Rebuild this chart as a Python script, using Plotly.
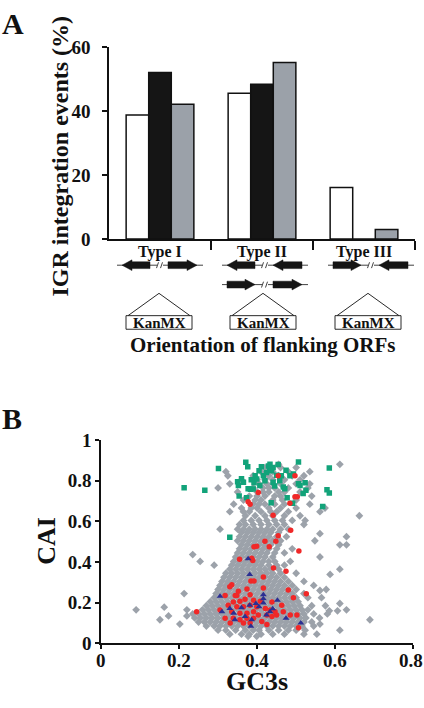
import plotly.graph_objects as go

W, H = 424, 708
FONT = "Liberation Serif, Times New Roman, serif"

# ---------------- Panel A data ----------------
orient_types = ["Type I", "Type II", "Type III"]
series_white = [38.7, 45.5, 16.1]
series_black = [52.0, 48.3, 0.0]
series_gray = [42.1, 55.1, 3.0]
igr_ticks = [0, 20, 40, 60]

# ---------------- Panel B data ----------------
gc3s_ticks = [0, 0.2, 0.4, 0.6, 0.8]
gc3s_labels = ["0", "0.2", "0.4", "0.6", "0.8"]
cai_ticks = [0, 0.2, 0.4, 0.6, 0.8, 1]

# gray genes: rows of (CAI, [GC3s values])
gray_rows = [
    (0.035, [0.377, 0.399]),
    (0.045, [0.33, 0.36, 0.38, 0.41, 0.44, 0.47, 0.52, 0.553]),
    (0.065, [0.30, 0.32, 0.345, 0.37, 0.39, 0.405, 0.43, 0.455, 0.48, 0.50, 0.523, 0.612]),
    (0.085, [0.27, 0.29, 0.305, 0.32, 0.335, 0.35, 0.365, 0.38, 0.395, 0.41, 0.425, 0.44, 0.455, 0.47, 0.485, 0.50, 0.515, 0.545]),
    (0.095, [0.202, 0.561]),
    (0.105, [0.25, 0.265, 0.28, 0.295, 0.31, 0.325, 0.34, 0.355, 0.37, 0.385, 0.40, 0.415, 0.43, 0.445, 0.46, 0.475, 0.49, 0.505, 0.52, 0.54]),
    (0.116, [0.151, 0.689]),
    (0.125, [0.24, 0.255, 0.27, 0.285, 0.30, 0.315, 0.33, 0.345, 0.36, 0.375, 0.39, 0.405, 0.42, 0.435, 0.45, 0.465, 0.48, 0.495, 0.51, 0.525, 0.56]),
    (0.135, [0.173, 0.22]),
    (0.145, [0.235, 0.25, 0.265, 0.28, 0.295, 0.31, 0.325, 0.34, 0.355, 0.37, 0.385, 0.40, 0.415, 0.43, 0.445, 0.46, 0.475, 0.49, 0.505, 0.52, 0.545, 0.58]),
    (0.160, [0.606, 0.585]),
    (0.165, [0.09, 0.22, 0.26, 0.275, 0.29, 0.305, 0.32, 0.335, 0.35, 0.365, 0.38, 0.395, 0.41, 0.425, 0.44, 0.455, 0.47, 0.485, 0.50, 0.515, 0.53, 0.629]),
    (0.178, [0.162]),
    (0.185, [0.27, 0.285, 0.30, 0.315, 0.33, 0.345, 0.36, 0.375, 0.39, 0.405, 0.42, 0.435, 0.45, 0.465, 0.48, 0.495, 0.51, 0.54, 0.575]),
    (0.196, [0.612]),
    (0.205, [0.28, 0.295, 0.31, 0.325, 0.34, 0.355, 0.37, 0.385, 0.40, 0.415, 0.43, 0.445, 0.46, 0.475, 0.49, 0.505]),
    (0.225, [0.29, 0.305, 0.32, 0.335, 0.35, 0.365, 0.38, 0.395, 0.41, 0.425, 0.44, 0.455, 0.47, 0.485, 0.50, 0.53, 0.565]),
    (0.245, [0.213, 0.295, 0.31, 0.325, 0.34, 0.355, 0.37, 0.385, 0.40, 0.415, 0.43, 0.445, 0.46, 0.475, 0.49, 0.52]),
    (0.260, [0.561]),
    (0.265, [0.30, 0.315, 0.33, 0.345, 0.36, 0.375, 0.39, 0.405, 0.42, 0.435, 0.45, 0.465, 0.48, 0.50, 0.577]),
    (0.285, [0.305, 0.32, 0.335, 0.35, 0.365, 0.38, 0.395, 0.41, 0.425, 0.44, 0.455, 0.47, 0.49, 0.545]),
    (0.305, [0.31, 0.325, 0.34, 0.355, 0.37, 0.385, 0.40, 0.415, 0.43, 0.445, 0.46, 0.48, 0.52]),
    (0.325, [0.315, 0.33, 0.345, 0.36, 0.375, 0.39, 0.405, 0.42, 0.435, 0.45, 0.47]),
    (0.339, [0.587]),
    (0.345, [0.32, 0.335, 0.35, 0.365, 0.38, 0.395, 0.41, 0.425, 0.44, 0.46, 0.50]),
    (0.365, [0.33, 0.345, 0.36, 0.375, 0.39, 0.405, 0.42, 0.435, 0.455, 0.612]),
    (0.385, [0.29, 0.335, 0.35, 0.365, 0.38, 0.395, 0.41, 0.43, 0.45, 0.47]),
    (0.403, [0.254, 0.34, 0.355, 0.37, 0.385, 0.40, 0.415, 0.43, 0.445, 0.485]),
    (0.425, [0.345, 0.36, 0.375, 0.39, 0.405, 0.42, 0.44, 0.561]),
    (0.437, [0.235]),
    (0.445, [0.35, 0.365, 0.38, 0.395, 0.41, 0.425, 0.445, 0.47]),
    (0.465, [0.355, 0.37, 0.385, 0.40, 0.415, 0.43, 0.45, 0.49]),
    (0.485, [0.36, 0.375, 0.39, 0.405, 0.42, 0.435, 0.455, 0.612, 0.629]),
    (0.505, [0.35, 0.365, 0.38, 0.395, 0.41, 0.425, 0.44, 0.46, 0.548]),
    (0.525, [0.355, 0.37, 0.385, 0.40, 0.415, 0.43, 0.45, 0.475, 0.629]),
    (0.540, [0.561]),
    (0.545, [0.36, 0.375, 0.39, 0.405, 0.42, 0.435, 0.455]),
    (0.562, [0.305, 0.35, 0.365, 0.38, 0.395, 0.41, 0.425, 0.44, 0.46, 0.48]),
    (0.585, [0.355, 0.37, 0.39, 0.41, 0.43, 0.45, 0.47, 0.52]),
    (0.605, [0.365, 0.385, 0.405, 0.425, 0.445, 0.465, 0.49, 0.523]),
    (0.628, [0.37, 0.395, 0.42, 0.44, 0.47, 0.51, 0.662]),
    (0.648, [0.33, 0.365, 0.38, 0.41, 0.435, 0.45, 0.48, 0.561]),
    (0.666, [0.36, 0.385, 0.40, 0.43, 0.46, 0.50, 0.574]),
    (0.685, [0.34, 0.39, 0.405, 0.42, 0.445, 0.47, 0.535]),
    (0.705, [0.365, 0.395, 0.41, 0.44, 0.465, 0.50]),
    (0.725, [0.38, 0.40, 0.42, 0.445, 0.46, 0.54]),
    (0.745, [0.35, 0.40, 0.415, 0.43, 0.455, 0.47, 0.51]),
    (0.765, [0.30, 0.39, 0.415, 0.43, 0.445, 0.48, 0.53]),
    (0.785, [0.33, 0.405, 0.425, 0.44, 0.46, 0.50, 0.535]),
    (0.805, [0.36, 0.40, 0.42, 0.44, 0.47, 0.51]),
    (0.825, [0.325, 0.39, 0.43, 0.455, 0.49, 0.52]),
    (0.845, [0.32, 0.41, 0.44, 0.48, 0.535]),
    (0.865, [0.42, 0.46, 0.50]),
    (0.881, [0.455, 0.612]),
]

# green genes (GC3s, CAI)
green_pts = [
    (0.213, 0.766), (0.266, 0.753), (0.301, 0.861), (0.330, 0.522), (0.350, 0.796),
    (0.352, 0.777), (0.354, 0.725), (0.365, 0.793), (0.371, 0.892), (0.376, 0.869),
    (0.373, 0.717), (0.377, 0.761), (0.383, 0.758), (0.390, 0.760), (0.399, 0.809),
    (0.395, 0.825), (0.392, 0.790), (0.407, 0.777), (0.411, 0.869), (0.416, 0.825),
    (0.424, 0.841), (0.429, 0.873), (0.432, 0.857), (0.433, 0.881), (0.437, 0.849),
    (0.441, 0.865), (0.436, 0.692), (0.441, 0.793), (0.450, 0.828), (0.454, 0.880),
    (0.458, 0.800), (0.462, 0.825), (0.467, 0.769), (0.471, 0.761), (0.474, 0.852),
    (0.477, 0.717), (0.484, 0.825), (0.491, 0.690), (0.493, 0.833), (0.506, 0.893),
    (0.506, 0.785), (0.510, 0.777), (0.518, 0.737), (0.523, 0.790), (0.525, 0.753),
    (0.568, 0.673), (0.585, 0.863), (0.579, 0.756), (0.585, 0.740), (0.420, 0.800),
    (0.445, 0.775), (0.405, 0.850), (0.385, 0.805), (0.360, 0.810),
]

# red genes (GC3s, CAI)
red_pts = [
    (0.454, 0.825), (0.497, 0.825), (0.403, 0.742), (0.377, 0.697), (0.382, 0.685),
    (0.484, 0.690), (0.497, 0.721), (0.503, 0.721), (0.441, 0.631), (0.486, 0.557),
    (0.454, 0.530), (0.448, 0.503), (0.420, 0.503), (0.399, 0.478), (0.392, 0.475),
    (0.431, 0.475), (0.507, 0.455), (0.355, 0.414), (0.386, 0.419), (0.389, 0.408),
    (0.442, 0.371), (0.474, 0.355), (0.384, 0.307), (0.392, 0.307), (0.416, 0.327),
    (0.335, 0.288), (0.330, 0.278), (0.416, 0.272), (0.374, 0.267), (0.352, 0.256),
    (0.480, 0.263), (0.526, 0.244), (0.318, 0.236), (0.344, 0.236), (0.382, 0.239),
    (0.493, 0.224), (0.245, 0.156), (0.305, 0.164), (0.326, 0.188), (0.348, 0.180),
    (0.365, 0.180), (0.382, 0.188), (0.399, 0.180), (0.421, 0.172), (0.433, 0.164),
    (0.335, 0.156), (0.356, 0.148), (0.374, 0.148), (0.391, 0.156), (0.403, 0.140),
    (0.425, 0.140), (0.438, 0.132), (0.450, 0.140), (0.467, 0.156), (0.485, 0.140),
    (0.502, 0.140), (0.506, 0.077), (0.339, 0.124), (0.356, 0.116), (0.374, 0.124),
    (0.391, 0.124), (0.412, 0.108), (0.425, 0.093), (0.331, 0.100), (0.318, 0.124),
    (0.369, 0.217), (0.356, 0.207), (0.408, 0.207), (0.339, 0.204), (0.391, 0.212),
    (0.438, 0.204), (0.446, 0.156), (0.348, 0.236), (0.365, 0.100), (0.382, 0.100),
    (0.463, 0.188),
]

# blue genes (GC3s, CAI)
blue_pts = [
    (0.377, 0.416), (0.381, 0.339), (0.305, 0.232), (0.416, 0.239), (0.416, 0.220),
    (0.397, 0.196), (0.381, 0.188), (0.416, 0.199), (0.452, 0.212), (0.310, 0.156),
    (0.340, 0.148), (0.369, 0.132), (0.386, 0.116), (0.384, 0.084), (0.424, 0.140),
    (0.433, 0.156), (0.474, 0.124), (0.512, 0.100), (0.343, 0.116), (0.405, 0.180),
    (0.330, 0.172), (0.440, 0.170), (0.360, 0.175),
]

gray_x = [g for c, gs in gray_rows for g in gs]
gray_y = [c for c, gs in gray_rows for g in gs]

BLACK = "#111111"
GRAYBAR = "#9ba1a9"
GRAYPT = "#9ca2aa"

fig = go.Figure()

# ---- Panel A bars ----
x_pos = [0, 1, 2]
for vals, col in [(series_white, "white"), (series_black, "#151515"), (series_gray, GRAYBAR)]:
    fig.add_trace(go.Bar(x=x_pos, y=vals, marker=dict(color=col, line=dict(color=BLACK, width=1.5)),
                         xaxis="x", yaxis="y", showlegend=False, hoverinfo="skip"))

# ---- Panel B scatter ----
fig.add_trace(go.Scatter(x=gray_x, y=gray_y, mode="markers", xaxis="x2", yaxis="y2",
                         marker=dict(symbol="diamond", size=6, color=GRAYPT), showlegend=False))
fig.add_trace(go.Scatter(x=[p[0] for p in green_pts], y=[p[1] for p in green_pts], mode="markers",
                         xaxis="x2", yaxis="y2", marker=dict(symbol="square", size=5.5, color="#12a37a"),
                         showlegend=False))
fig.add_trace(go.Scatter(x=[p[0] for p in red_pts], y=[p[1] for p in red_pts], mode="markers",
                         xaxis="x2", yaxis="y2", marker=dict(symbol="circle", size=5.5, color="#f02828"),
                         showlegend=False))
fig.add_trace(go.Scatter(x=[p[0] for p in blue_pts], y=[p[1] for p in blue_pts], mode="markers",
                         xaxis="x2", yaxis="y2", marker=dict(symbol="triangle-up", size=6, color="#2b2f92"),
                         showlegend=False))


def px(x):
    return x / W


def py(y):
    return 1 - y / H


def P(x, y):
    return f"{px(x):.5f},{py(y):.5f}"


shapes = []


def line(x0, y0, x1, y1, w=1.0):
    shapes.append(dict(type="line", xref="paper", yref="paper", x0=px(x0), y0=py(y0), x1=px(x1), y1=py(y1),
                       line=dict(color=BLACK, width=w)))


def arrow(tail, tip, y, body=3.5, head=5.5, hl=10):
    s = 1 if tip > tail else -1
    base = tip - s * hl
    pts = [(tail, y - body), (base, y - body), (base, y - head), (tip, y), (base, y + head), (base, y + body),
           (tail, y + body)]
    shapes.append(dict(type="path", xref="paper", yref="paper",
                       path="M " + " L ".join(P(*p) for p in pts) + " Z",
                       fillcolor="#151515", line=dict(color="#151515", width=0.5)))


def diagram(cx, y, ldir, rdir):
    line(cx - 43, y, cx - 3, y, 0.8)
    line(cx + 3, y, cx + 43, y, 0.8)
    line(cx - 3.5, y + 3, cx - 1.5, y - 3, 0.8)
    line(cx + 0.5, y + 3, cx + 2.5, y - 3, 0.8)
    if ldir == "L":
        arrow(cx - 10, cx - 38, y)
    else:
        arrow(cx - 38, cx - 10, y)
    if rdir == "L":
        arrow(cx + 37, cx + 8, y)
    else:
        arrow(cx + 8, cx + 37, y)


def kanmx(cx):
    shapes.append(dict(type="path", xref="paper", yref="paper",
                       path=f"M {P(cx - 31, 315)} L {P(cx, 292)} L {P(cx + 31, 315)}",
                       line=dict(color=BLACK, width=0.9)))
    shapes.append(dict(type="rect", xref="paper", yref="paper", x0=px(cx - 33), x1=px(cx + 33),
                       y0=py(329), y1=py(315), line=dict(color=BLACK, width=0.9), fillcolor="white"))


diagram(160, 263, "L", "R")
diagram(265, 263, "L", "L")
diagram(265, 283, "R", "R")
diagram(371, 263, "R", "L")
for cx in (159, 263, 368):
    kanmx(cx)

annotations = []


def text(t, x, y, size, xref="paper", angle=0, yanchor="middle", xanchor="center"):
    annotations.append(dict(text=t, x=x, y=y, xref=xref, yref="paper", showarrow=False,
                            textangle=angle, xanchor=xanchor, yanchor=yanchor, borderpad=0,
                            font=dict(family=FONT, size=size, color=BLACK, weight="bold")))


text("A", px(13), py(14), 30)
text("B", px(12), py(421), 30)
text("IGR integration events (%)", px(60), py(151), 24, angle=-90)
for i, t in enumerate(orient_types):
    text(t, i, py(249), 16, xref="x")
for cx in (159, 263, 368):
    text("KanMX", px(cx), py(322.5), 15)
text("Orientation of flanking ORFs", px(262), py(345), 21)
text("CAI", px(47), py(547), 26, angle=-90)
text("GC3s", px(257), 0.0, 26, yanchor="bottom")

# x tick labels of panel B, placed on the GC3s scale; the last one sits flush with the page edge
for v, lab in zip(gc3s_ticks[:-1], gc3s_labels[:-1]):
    text(lab, v, py(659), 19, xref="x2", yanchor="top")
text(gc3s_labels[-1], 1.0, py(659), 19, yanchor="top", xanchor="right")

tickfont = dict(family=FONT, size=19, color=BLACK, weight="bold")
axis_common = dict(showline=True, linecolor=BLACK, linewidth=1.5, showgrid=False, zeroline=False,
                   ticks="outside", tickcolor=BLACK, tickwidth=1.5, fixedrange=True)

fig.update_layout(
    width=W, height=H, autosize=False,
    margin=dict(l=0, r=0, t=0, b=0),
    paper_bgcolor="white", plot_bgcolor="white",
    barmode="group", bargap=0.336, bargroupgap=0,
    font=dict(family=FONT, color=BLACK),
    xaxis=dict(domain=[px(109), px(415)], range=[-0.5, 2.5], anchor="y", tickvals=[0.5, 1.5, 2.5],
               ticklen=9, showticklabels=False, **axis_common),
    yaxis=dict(domain=[py(236), py(38)], range=[0, 60], anchor="x", tickvals=igr_ticks, ticklen=5,
               tickfont=tickfont, ticklabelstandoff=8, **axis_common),
    xaxis2=dict(domain=[px(101), px(413.3)], range=[0, 0.8002], anchor="y2", tickvals=gc3s_ticks,
                ticklen=4, showticklabels=False, **axis_common),
    yaxis2=dict(domain=[py(652.7), py(443.3)], range=[0, 1.0002], anchor="x2", tickvals=cai_ticks,
                ticktext=[str(v) for v in cai_ticks], ticklen=4, tickfont=tickfont, **axis_common),
    shapes=shapes,
    annotations=annotations,
)

fig.write_html(
    "out.html", config={"displayModeBar": False},
    post_script="document.body.style.margin='0';document.body.style.overflow='hidden';",
)
